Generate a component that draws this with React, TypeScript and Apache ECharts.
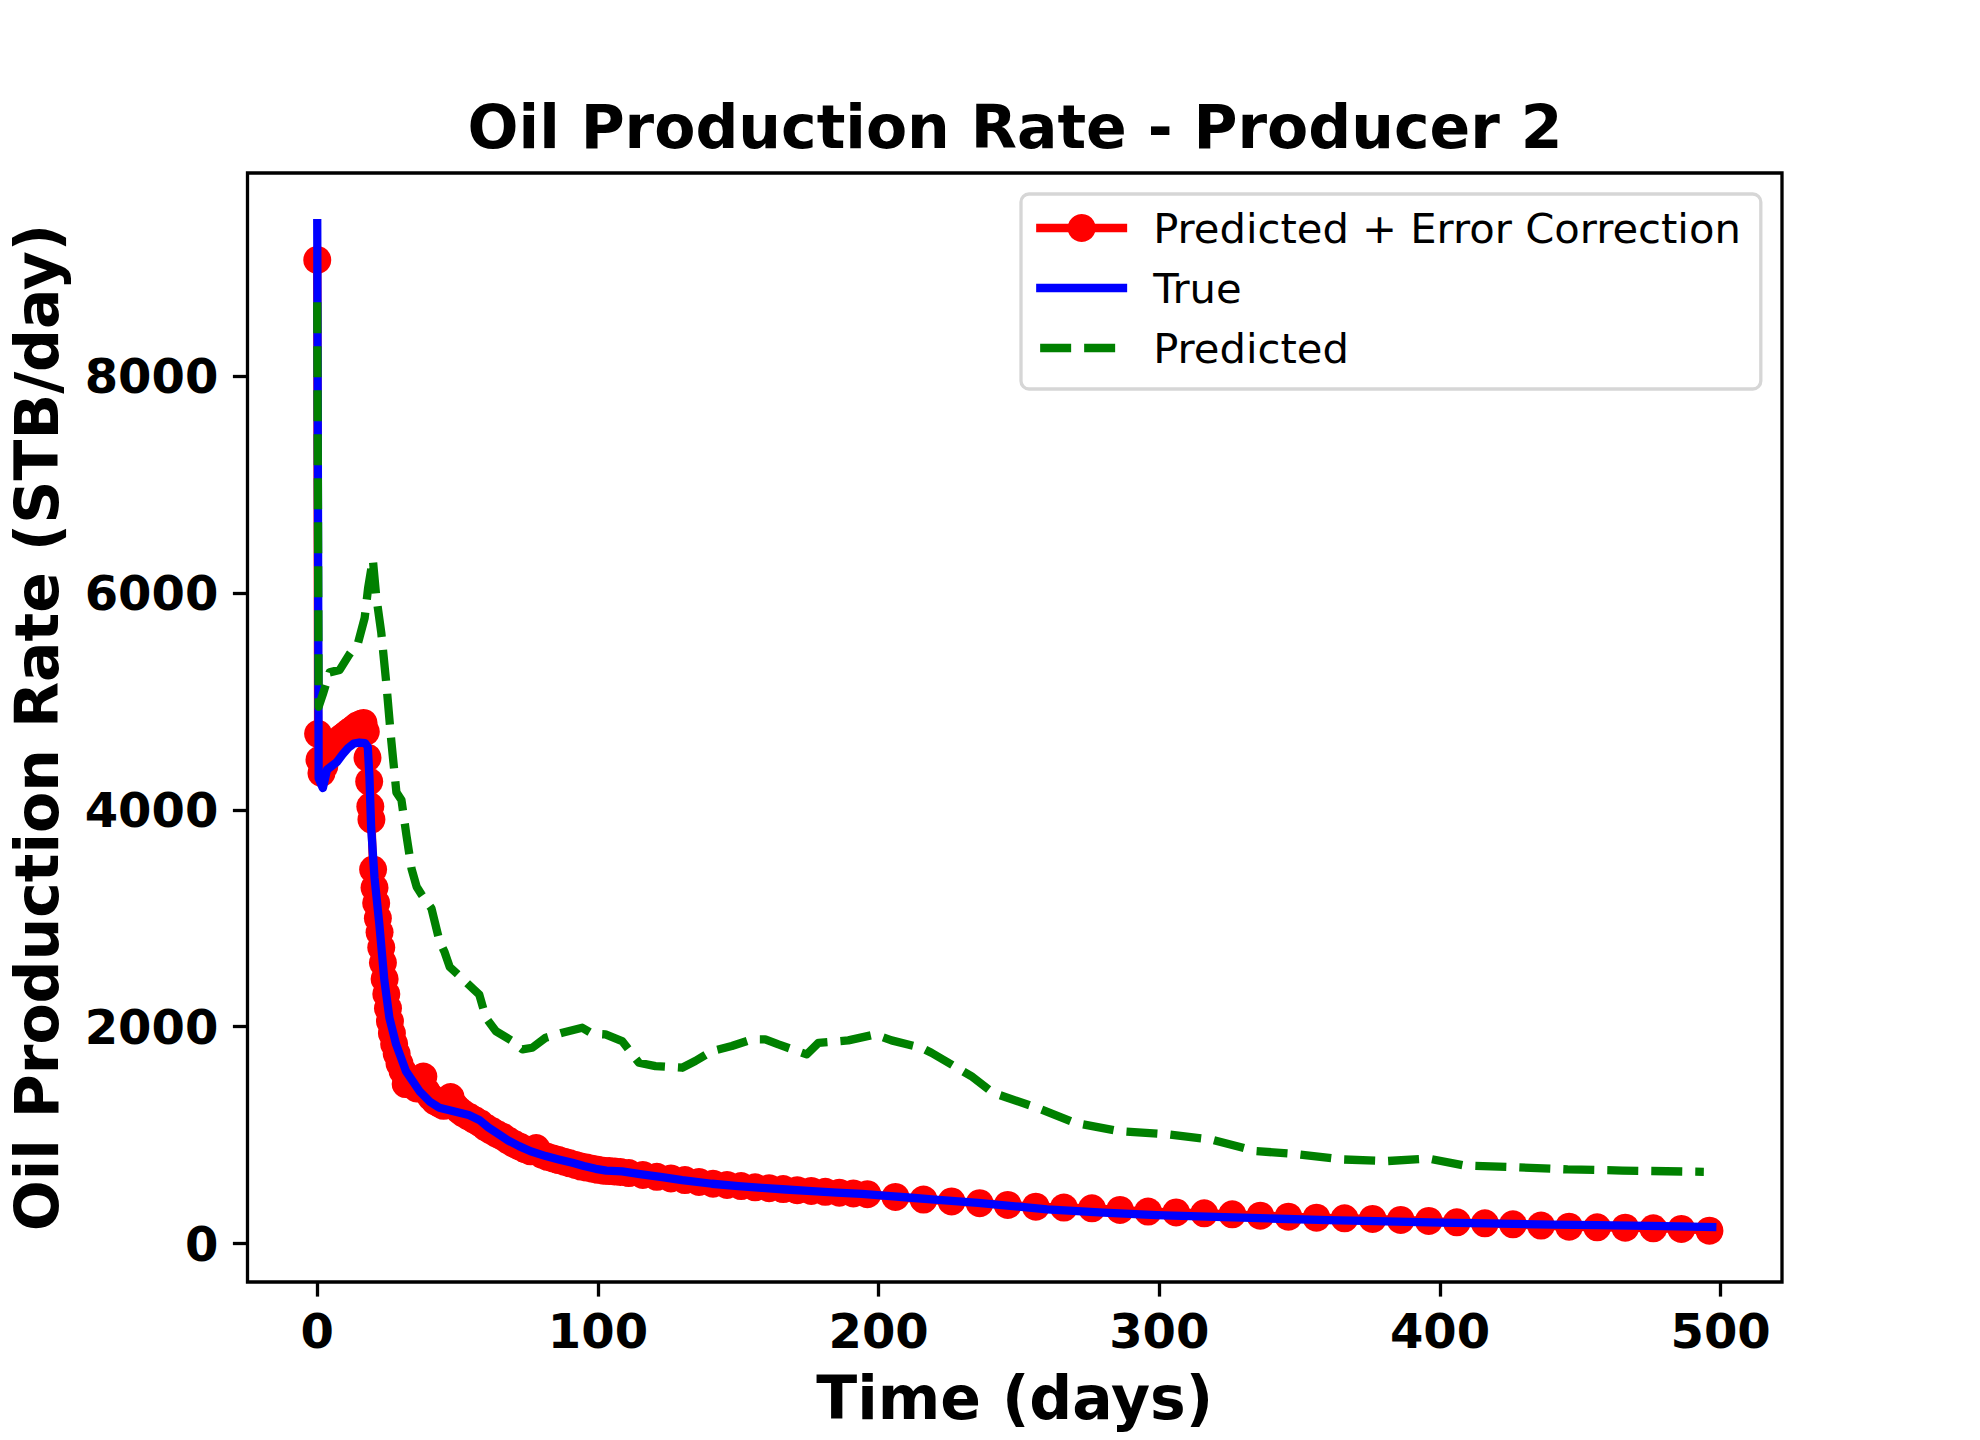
import React, { useEffect, useRef } from "react";
import * as echarts from "echarts";

// ---------- data ----------
const xTicks = [0, 100, 200, 300, 400, 500];
const yTicks = [0, 2000, 4000, 6000, 8000];

// Predicted + Error Correction (red markers)
const corrTime = [
  0, 0.3, 0.8, 1.5, 2.5, 3.5, 4.5, 5.5, 6.5, 7.5, 8.5, 9.5, 10.5, 11.5, 12.5, 13.5, 14.5, 15.5, 16.5,
  17.3, 17.9, 18.5, 18.9, 19.3, 19.9, 20.4, 21.0, 21.6, 22.2, 22.8, 23.4, 24.0, 24.6, 25.2, 25.9, 26.6,
  27.4, 28.3, 29.3, 30.4, 31.5, 32.7, 34.0, 35.4, 36.8, 37.8, 39.0, 40.5, 42.0, 43.5, 45.0, 46.5, 47.5,
  49.0, 50.5, 52, 54, 56, 58, 60, 62, 64, 66, 68, 70, 72, 74, 76, 78, 80, 82, 84, 86, 88, 90, 92, 94,
  96, 98, 100, 102, 104, 106, 108, 111, 116, 121, 126, 131, 136, 141, 146, 151, 156, 161, 166, 171,
  176, 181, 186, 191, 196, 206, 216, 226, 236, 246, 256, 266, 276, 286, 296, 306, 316, 326, 336, 346,
  356, 366, 376, 386, 396, 406, 416, 426, 436, 446, 456, 466, 476, 486, 496,
];
const corrRate = [
  9070, 4700, 4460, 4340, 4400, 4480, 4530, 4570, 4600, 4630, 4660, 4680, 4700, 4720, 4740, 4760, 4780, 4790, 4800,
  4720, 4480, 4260, 4030, 3910, 3450, 3280, 3140, 3000, 2870, 2730, 2590, 2440, 2300, 2170, 2050, 1940,
  1840, 1750, 1660, 1590, 1470, 1520, 1470, 1430, 1440, 1540, 1400, 1350, 1310, 1290, 1270, 1290, 1350,
  1270, 1230, 1200, 1170, 1140, 1110, 1070, 1040, 1010, 985, 950, 920, 895, 870, 850, 880, 820, 800, 785, 770, 755, 740, 725, 710,
  700, 690, 680, 672, 668, 665, 660, 650, 632, 615, 600, 585, 568, 552, 540, 530, 518, 510, 502, 492,
  485, 477, 469, 462, 455, 430, 405, 388, 372, 356, 340, 331, 324, 309, 294, 287, 278, 269, 257, 247,
  238, 232, 226, 217, 208, 195, 186, 177, 165, 155, 149, 146, 140, 134, 118,
];

// True (blue line)
const trueTime = [
  0, 0.5, 2, 3.5, 5, 7, 9, 11, 13, 15, 17, 18, 18.6, 19.2, 20.4, 22.1, 23.9, 25.7, 28.1, 31.6, 36.4,
  40, 43.5, 50, 54, 57.7, 61, 64.8, 68, 71.9, 76, 81.4, 86, 90.9, 95, 99.2, 103, 108.6, 115, 122.9,
  130, 140.6, 150, 158.4, 167, 176.2, 185, 194, 203, 211.7, 220, 235.4, 250, 260, 280, 299, 320, 339,
  360, 377, 400, 417, 440, 456, 480, 497,
];
const trueRate = [
  9410, 4290, 4200, 4370, 4400, 4440, 4510, 4570, 4610, 4620, 4615, 4580, 4300, 3835, 3374, 2950, 2430, 2082, 1836, 1590, 1406,
  1310, 1252, 1210, 1185, 1140, 1070, 1006, 950, 898, 850, 806, 775, 744, 715, 689, 672, 665, 640, 612,
  585, 551, 530, 514, 498, 483, 470, 458, 440, 422, 405, 375, 340, 314, 285, 262, 245, 231,
  215, 206, 192, 185, 175, 169, 160, 152,
];

// Predicted (green dashed line)
const predTime = [
  0, 0.5, 2, 4.4, 8, 11.5, 14.5, 16.9, 18.1, 19.8, 21, 22.8, 24.6, 26.4, 28.2, 30, 31.8, 33.6, 35.4,
  37.1, 40.7, 43.6, 45.4, 47.2, 51.4, 55.5, 57.7, 60.1, 63.6, 69.5, 73.1, 76.6, 81.4, 87.3, 94.4, 98,
  102.7, 108.6, 114.6, 120.5, 130, 134.7, 140.6, 147.7, 154.9, 159.6, 164.3, 174.4, 178.6, 189.2,
  198.7, 204.6, 215.3, 218.8, 233, 240.7, 256.3, 270, 285.6, 303, 318.6, 334.3, 348, 365.6, 381,
  395.8, 408.4, 426, 445.5, 465, 494,
];
const predRate = [
  8680, 4950, 5066, 5267, 5290, 5435, 5535, 5770, 6040, 6310, 5970, 5635, 5167, 4630, 4160, 4090, 3760, 3455, 3290,
  3220, 3090, 2785, 2685, 2550, 2450, 2350, 2297, 2082, 1959, 1867, 1790, 1805, 1898, 1944, 1990, 1935,
  1928, 1867, 1667, 1636, 1621, 1683, 1775, 1821, 1882, 1882, 1836, 1744, 1851, 1873,
  1928, 1873, 1805, 1759, 1544, 1390, 1252, 1113, 1037, 1006, 959, 852, 827, 775, 760,
  784, 720, 705, 683, 673, 661,
];

const zip = (t: number[], v: number[]) => t.map((x, i) => [x, v[i]]);

const FONT = "DejaVu Sans";

const blueIcon =
  "path://M0,0h0.01v0.01h-0.01z M0,13.35h91v8.3h-91z M90.99,34.99h0.01v0.01h-0.01z";
const greenIcon =
  "path://M0,0h0.01v0.01h-0.01z M4,13.35h31v8.3h-31z M48,13.35h31v8.3h-31z M90.99,34.99h0.01v0.01h-0.01z";

export default function App() {
  const ref = useRef<HTMLDivElement>(null);

  useEffect(() => {
    if (!ref.current) return;
    const chart = echarts.init(ref.current, undefined, { renderer: "svg" });
    const axisLabelStyle = {
      fontSize: 48,
      fontWeight: "bold" as const,
      fontFamily: FONT,
      color: "#000",
      formatter: (v: number) => String(v),
    };
    const nameStyle = {
      fontSize: 60,
      lineHeight: 60,
      fontWeight: "bold" as const,
      fontFamily: FONT,
      color: "#000",
    };
    const tickStyle = (vals: number[]) => ({
      show: true,
      inside: false,
      length: 14.6,
      lineStyle: { color: "#000", width: 3.3 },
      customValues: vals,
    });
    chart.setOption({
      animation: false,
      backgroundColor: "#fff",
      textStyle: { fontFamily: FONT },
      title: {
        text: "Oil Production Rate - Producer 2",
        left: 1010,
        top: 92,
        textAlign: "center",
        textStyle: { fontSize: 60, fontWeight: "bold", fontFamily: FONT, color: "#000" },
      },
      grid: {
        left: 247.5,
        top: 173,
        width: 1534.5,
        height: 1109,
        show: true,
        borderColor: "#000",
        borderWidth: 3.3,
        backgroundColor: "transparent",
        containLabel: false,
        outerBoundsMode: "none",
      },
      legend: {
        orient: "vertical",
        left: 1021,
        top: 194,
        padding: [13, 20, 20, 11],
        itemWidth: 91,
        itemHeight: 35,
        itemGap: 18,
        backgroundColor: "#fff",
        borderColor: "#d6d6d6",
        borderWidth: 3.3,
        borderRadius: 8,
        selectedMode: false,
        textStyle: { fontSize: 41.7, fontFamily: FONT, color: "#000", padding: [0, 0, 0, 21] },
        lineStyle: { width: 8.3 },
        itemStyle: { borderWidth: 0 },
        data: [
          { name: "Predicted + Error Correction" },
          { name: "True", icon: blueIcon },
          { name: "Predicted", icon: greenIcon },
        ],
      },
      xAxis: {
        type: "value",
        min: -24.85,
        max: 521.85,
        name: "Time (days)",
        nameLocation: "middle",
        nameGap: 86,
        nameTextStyle: nameStyle,
        axisLine: { show: false, onZero: false },
        splitLine: { show: false },
        axisTick: tickStyle(xTicks),
        axisLabel: { ...axisLabelStyle, margin: 25, customValues: xTicks },
      },
      yAxis: {
        type: "value",
        min: -355,
        max: 9872,
        name: "Oil Production Rate (STB/day)",
        nameLocation: "middle",
        nameGap: 181,
        nameTextStyle: nameStyle,
        axisLine: { show: false, onZero: false },
        splitLine: { show: false },
        axisTick: tickStyle(yTicks),
        axisLabel: { ...axisLabelStyle, margin: 29.2, customValues: yTicks },
      },
      series: [
        {
          type: "line",
          name: "Predicted + Error Correction",
          data: zip(corrTime, corrRate),
          z: 2,
          symbol: "circle",
          symbolSize: 28,
          showSymbol: true,
          showAllSymbol: true,
          silent: true,
          emphasis: { disabled: true },
          lineStyle: { color: "#ff0000", width: 8.3, join: "round" },
          itemStyle: { color: "#ff0000", borderWidth: 0 },
        },
        {
          type: "line",
          name: "True",
          data: zip(trueTime, trueRate),
          z: 3,
          symbol: "none",
          showSymbol: false,
          silent: true,
          emphasis: { disabled: true },
          lineStyle: { color: "#0000ff", width: 8.3, join: "round", cap: "square" },
          itemStyle: { color: "#0000ff", borderWidth: 0 },
        },
        {
          type: "line",
          name: "Predicted",
          data: zip(predTime, predRate),
          z: 4,
          symbol: "none",
          showSymbol: false,
          silent: true,
          emphasis: { disabled: true },
          lineStyle: { color: "#008000", width: 8.3, type: [31, 13], join: "round" },
          itemStyle: { color: "#008000", borderWidth: 0 },
        },
      ],
    });
    return () => chart.dispose();
  }, []);

  return (
    <div
      ref={ref}
      style={{ position: "fixed", left: 0, top: 0, width: 1980, height: 1440, background: "#fff" }}
    />
  );
}
